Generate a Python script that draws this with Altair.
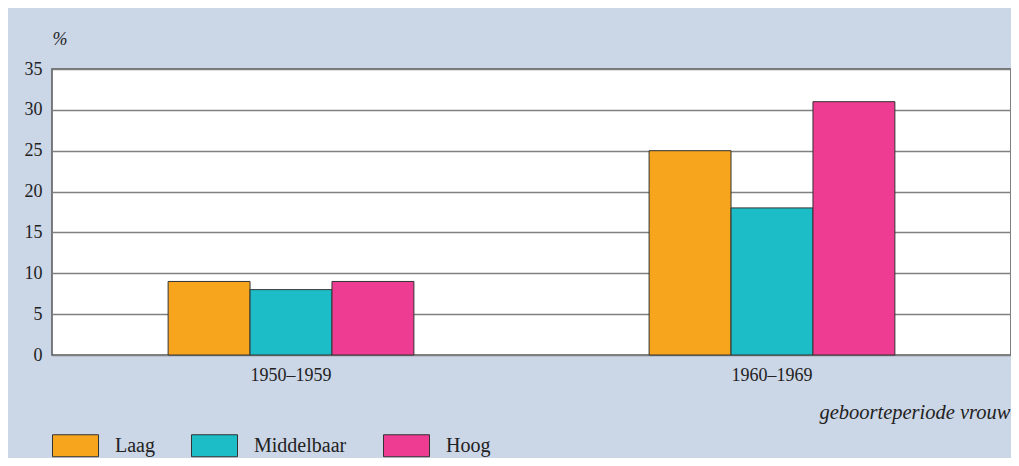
import altair as alt
import pandas as pd

periods = ["1950–1959", "1960–1969"]
levels = ["Laag", "Middelbaar", "Hoog"]
laag = [9, 25]
middelbaar = [8, 18]
hoog = [9, 31]
colors = ["#f8a51e", "#1dbdc7", "#ee3c93"]

rows = []
for i, p in enumerate(periods):
    for lvl, vals in zip(levels, [laag, middelbaar, hoog]):
        rows.append({"periode": p, "niveau": lvl, "waarde": vals[i]})
df = pd.DataFrame(rows)

FONT = "Liberation Serif"

chart = alt.Chart(df).mark_bar(stroke="#333333", strokeWidth=1).encode(
    x=alt.X(
        "periode:N",
        sort=periods,
        scale=alt.Scale(paddingInner=0.489, paddingOuter=0.2414),
        axis=alt.Axis(
            title="geboorteperiode vrouw",
            titleFont=FONT, titleFontSize=20.5, titleFontStyle="italic", titleFontWeight="normal",
            titleColor="#222222",
            titleAnchor="start", titleAlign="right", titleBaseline="middle",
            titleX=958, titleY=57,
            labelAngle=0, labelFont=FONT, labelFontSize=18, labelColor="#222222",
            labelPadding=11, ticks=False, domain=False, grid=False,
        ),
    ),
    xOffset=alt.XOffset(
        "niveau:N", sort=levels,
        scale=alt.Scale(paddingInner=0, paddingOuter=0),
    ),
    y=alt.Y(
        "waarde:Q",
        scale=alt.Scale(domain=[0, 35], nice=False),
        axis=alt.Axis(
            title="%",
            titleFont=FONT, titleFontSize=18, titleFontStyle="italic", titleFontWeight="normal",
            titleColor="#222222", titleAngle=0, titleAlign="left", titleBaseline="middle",
            titleX=0, titleY=-30,
            values=[0, 5, 10, 15, 20, 25, 30, 35],
            labelFont=FONT, labelFontSize=18, labelColor="#222222", labelPadding=10,
            ticks=False, domain=False,
            grid=True, gridColor="#808080", gridWidth=1.6, gridOpacity=1,
        ),
    ),
    fill=alt.Fill(
        "niveau:N", sort=levels,
        scale=alt.Scale(domain=levels, range=colors),
        legend=alt.Legend(
            title=None, orient="none", legendX=0, legendY=353,
            direction="horizontal", columns=3, columnPadding=34,
            symbolType="M-1,-0.478H1V0.478H-1Z", symbolSize=2116,
            symbolStrokeColor="#333333", symbolStrokeWidth=1, symbolOpacity=1,
            labelFont=FONT, labelFontSize=20, labelColor="#222222", labelOffset=16,
        ),
    ),
).properties(
    width=959,
    height=286,
    autosize=alt.AutoSizeParams(type="none"),
    padding={"left": 44, "top": 61, "right": 0, "bottom": 103},
    background="#cbd6e6",
).configure(
    font=FONT
).configure_view(
    fill="white", stroke="#555555", strokeWidth=1.5
).configure_legend(
    labelFont=FONT, labelFontSize=20, labelColor="#222222"
)

chart.save("out.html", embed_options={"renderer": "svg", "actions": False})
